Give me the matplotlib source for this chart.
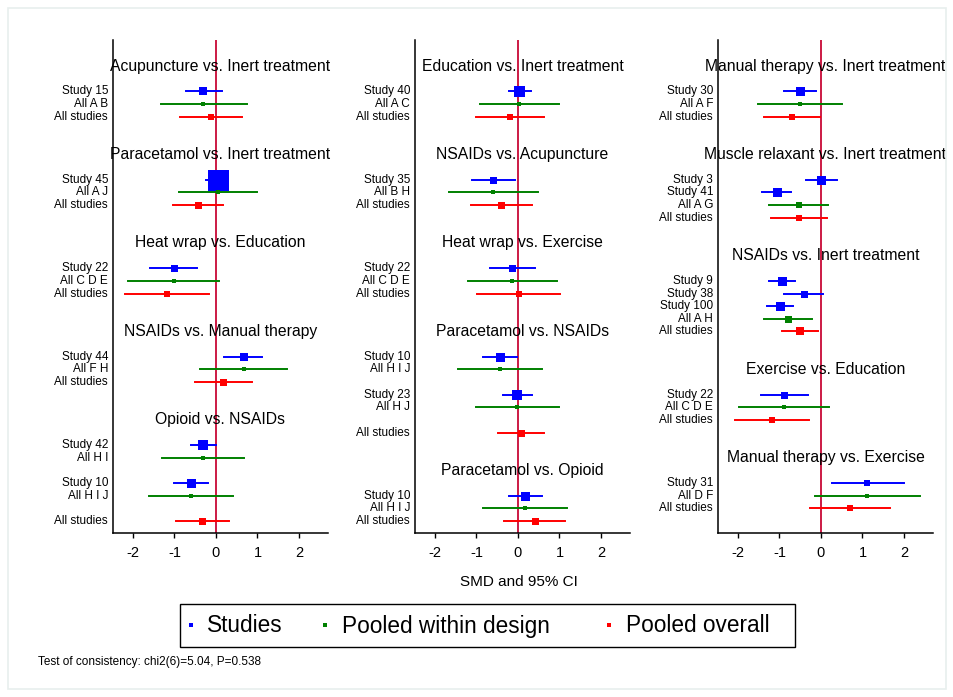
import numpy as np
import matplotlib
matplotlib.use("Agg")
import matplotlib.pyplot as plt
import matplotlib.transforms as mtransforms
from matplotlib.patches import Rectangle

plt.rcParams['font.family'] = ['Liberation Sans', 'DejaVu Sans']

# ---- data: one list entry per comparison ----
# left column
left_titles = ["Acupuncture vs. Inert treatment", "Paracetamol vs. Inert treatment",
               "Heat wrap vs. Education", "NSAIDs vs. Manual therapy", "Opioid vs. NSAIDs"]
left_labels = [["Study 15", "All A B", "All studies"],
               ["Study 45", "All A J", "All studies"],
               ["Study 22", "All C D E", "All studies"],
               ["Study 44", "All F H", "All studies"],
               ["Study 42", "All H I", "Study 10", "All H I J", "All studies"]]
left_est = [[-0.30, -0.30, -0.13], [0.04, 0.04, -0.44], [-1.02, -1.02, -1.19],
            [0.67, 0.67, 0.18], [-0.30, -0.30, -0.60, -0.60, -0.33]]
left_lo = [[-0.72, -1.32, -0.86], [-0.25, -0.89, -1.04], [-1.59, -2.11, -2.18],
           [0.20, -0.38, -0.51], [-0.61, -1.29, -1.01, -1.62, -0.97]]
left_hi = [[0.14, 0.74, 0.62], [0.30, 0.99, 0.16], [-0.46, 0.07, -0.17],
           [1.12, 1.71, 0.88], [0.00, 0.68, -0.18, 0.42, 0.32]]
# marker widths in pixels (study weights)
left_size = [[8, 5, 6], [21, 5, 7], [7, 5, 6], [8, 5, 7], [10, 5, 9, 5, 7]]

# middle column
mid_titles = ["Education vs. Inert treatment", "NSAIDs vs. Acupuncture",
              "Heat wrap vs. Exercise", "Paracetamol vs. NSAIDs", "Paracetamol vs. Opioid"]
mid_labels = [["Study 40", "All A C", "All studies"],
              ["Study 35", "All B H", "All studies"],
              ["Study 22", "All C D E", "All studies"],
              ["Study 10", "All H I J", "Study 23", "All H J", "All studies"],
              ["Study 10", "All H I J", "All studies"]]
mid_est = [[0.03, 0.03, -0.20], [-0.59, -0.59, -0.40], [-0.14, -0.14, 0.02],
           [-0.43, -0.43, -0.02, -0.02, 0.07], [0.17, 0.17, 0.40]]
mid_lo = [[-0.22, -0.92, -1.01], [-1.10, -1.65, -1.14], [-0.67, -1.21, -0.98],
          [-0.84, -1.45, -0.36, -1.00, -0.47], [-0.22, -0.84, -0.34]]
mid_hi = [[0.31, 1.00, 0.62], [-0.07, 0.48, 0.34], [0.42, 0.94, 1.01],
          [-0.02, 0.58, 0.33, 0.98, 0.62], [0.57, 1.19, 1.13]]
mid_size = [[11, 5, 6], [7, 5, 7], [7, 5, 6], [9, 5, 10, 5, 7], [9, 5, 7]]

# right column
right_titles = ["Manual therapy vs. Inert treatment", "Muscle relaxant vs. Inert treatment",
                "NSAIDs vs. Inert treatment", "Exercise vs. Education",
                "Manual therapy vs. Exercise"]
right_labels = [["Study 30", "All A F", "All studies"],
                ["Study 3", "Study 41", "All A G", "All studies"],
                ["Study 9", "Study 38", "Study 100", "All A H", "All studies"],
                ["Study 22", "All C D E", "All studies"],
                ["Study 31", "All D F", "All studies"]]
right_est = [[-0.51, -0.51, -0.70], [0.01, -1.07, -0.53, -0.53],
             [-0.93, -0.42, -0.99, -0.79, -0.51], [-0.88, -0.88, -1.19],
             [1.12, 1.12, 0.69]]
right_lo = [[-0.90, -1.52, -1.37], [-0.35, -1.41, -1.24, -1.20],
            [-1.24, -0.88, -1.30, -1.37, -0.95], [-1.45, -1.97, -2.07],
            [0.27, -0.14, -0.27]]
right_hi = [[-0.13, 0.50, -0.02], [0.39, -0.73, 0.18, 0.14],
            [-0.62, 0.06, -0.67, -0.22, -0.08], [-0.32, 0.20, -0.29],
            [1.99, 2.39, 1.66]]
right_size = [[9, 5, 6], [9, 9, 6, 6], [9, 7, 9, 7, 8], [7, 5, 6], [6, 5, 6]]

xticks = [-2, -1, 0, 1, 2]
legend_labels = ["Studies", "Pooled within design", "Pooled overall"]
consistency = "Test of consistency: chi2(6)=5.04, P=0.538"

BLUE, GREEN, RED = '#0000ff', '#008000', '#ff0000'
LINE_RED = '#cc1a44'


def colour(lab):
    if lab.startswith("Study"):
        return BLUE
    if lab == "All studies":
        return RED
    return GREEN


def fx(px):
    return px / 954


def fy(py):
    return 1 - py / 697


fig = plt.figure(figsize=(9.54, 6.97), dpi=100)

# faint frame round the whole picture
fig.patches.append(Rectangle((fx(8), fy(689)), 938 / 954, 681 / 697,
                             transform=fig.transFigure, fill=False,
                             edgecolor='#e8efed', lw=1.2))

panels = [(left_titles, left_labels, left_est, left_lo, left_hi, left_size),
          (mid_titles, mid_labels, mid_est, mid_lo, mid_hi, mid_size),
          (right_titles, right_labels, right_est, right_lo, right_hi, right_size)]
lefts = [113, 415, 718]

for left_px, (titles, labels, est, lo, hi, size) in zip(lefts, panels):
    ax = fig.add_axes([fx(left_px), fy(533), 215 / 954, 493 / 697])
    trans = mtransforms.blended_transform_factory(ax.transAxes, ax.transData)
    ax.axvline(0, color=LINE_RED, lw=1.4, zorder=1)

    row = 0
    for title, labs, e, l, h, s in zip(titles, labels, est, lo, hi, size):
        ax.text(0.5, row, title, transform=trans, ha='center', va='center',
                fontsize=11.3, clip_on=False, zorder=5)
        row += 2
        n_green = sum(colour(x) == GREEN for x in labs)
        prev = None
        for lab, ei, li, hi_, si in zip(labs, e, l, h, s):
            c = colour(lab)
            # blank row between designs, and before the overall estimate
            if prev == GREEN and (c == BLUE or (c == RED and n_green > 1)):
                row += 1
            ax.plot([li, hi_], [row, row], color=c, lw=1.4, zorder=2)
            ax.plot([ei], [row], marker='s', ms=si * 0.72, color=c, mec=c, mew=0, zorder=3)
            ax.text(-0.023, row, lab, transform=trans, ha='right', va='center',
                    fontsize=8.5, clip_on=False)
            prev = c
            row += 1
        row += 2

    ax.set_xlim(-2.48, 2.7)
    ax.set_ylim(36.95, -2.06)
    ax.set_xticks(xticks)
    ax.set_xticklabels([str(t) for t in xticks], fontsize=10.5)
    ax.set_yticks([])
    ax.tick_params(axis='x', length=3.6, width=1, pad=6)
    for sp in ['top', 'right']:
        ax.spines[sp].set_visible(False)
    for sp in ['left', 'bottom']:
        ax.spines[sp].set_linewidth(1.1)

fig.text(fx(519), fy(582), "SMD and 95% CI", ha='center', va='center', fontsize=11)

# legend box drawn by hand to match the uneven padding of the original
fig.patches.append(Rectangle((fx(180), fy(647)), 615 / 954, 43 / 697,
                             transform=fig.transFigure, fill=False,
                             edgecolor='black', lw=1.0))
for mx, tx, c, lab in zip([191, 325, 609], [207, 342, 626], (BLUE, GREEN, RED), legend_labels):
    fig.lines.append(plt.Line2D([fx(mx)], [fy(625)], transform=fig.transFigure,
                                ls='none', marker='s', ms=2.6, color=c, mew=0))
    fig.text(fx(tx), fy(626), lab, ha='left', va='center', fontsize=16.3)

fig.text(fx(38), fy(662), consistency, ha='left', va='center', fontsize=8.5)

fig.savefig("out.png", dpi=100)
